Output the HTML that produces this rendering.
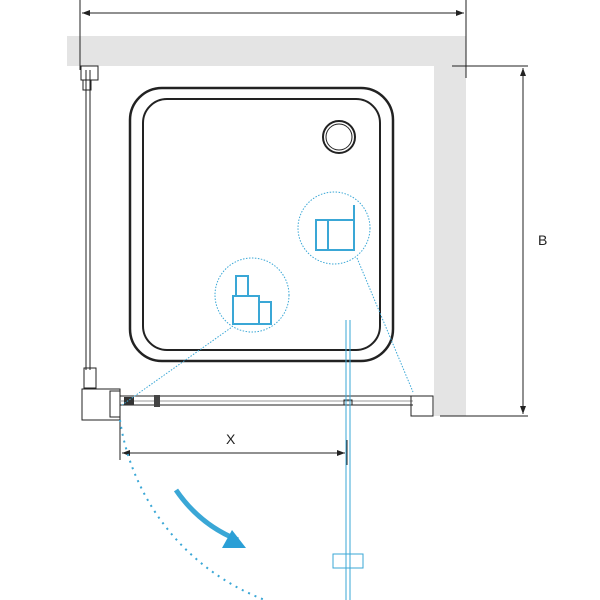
<!DOCTYPE html>
<html><head><style>body{margin:0;background:#fff}svg{display:block}</style></head><body>
<svg width="600" height="600" viewBox="0 0 600 600" xmlns="http://www.w3.org/2000/svg">
<defs><marker id="a" markerWidth="8" markerHeight="6" refX="8" refY="3" orient="auto"><path d="M0,0 L8,3 L0,6z" fill="#222"/></marker>
<marker id="b" markerWidth="8" markerHeight="6" refX="0" refY="3" orient="auto"><path d="M8,0 L0,3 L8,6z" fill="#222"/></marker></defs>
<rect x="67" y="36" width="399" height="30" fill="#e4e4e4"/>
<rect x="434" y="66" width="32" height="350" fill="#e4e4e4"/>
<g stroke="#222" stroke-width="1" fill="none">
<line x1="80" y1="0" x2="80" y2="70"/><line x1="466" y1="0" x2="466" y2="78"/>
<line x1="82" y1="13" x2="464" y2="13" marker-start="url(#b)" marker-end="url(#a)"/>
<line x1="452" y1="66" x2="528" y2="66"/><line x1="440" y1="416" x2="528" y2="416"/>
<line x1="523" y1="68" x2="523" y2="414" marker-start="url(#b)" marker-end="url(#a)"/>
<rect x="130" y="88" width="263" height="273" rx="32" stroke-width="2.5"/>
<rect x="143" y="99" width="237" height="251" rx="24" stroke-width="2"/>
<circle cx="339" cy="137" r="16" stroke-width="2"/><circle cx="339" cy="137" r="13" stroke-width="1"/>
<line x1="86" y1="70" x2="86" y2="370"/><line x1="90" y1="70" x2="90" y2="370"/>
<rect x="81" y="66" width="17" height="14"/><rect x="83" y="80" width="8" height="10"/>
<rect x="84" y="368" width="12" height="20"/>
<rect x="82" y="389" width="38" height="31"/><rect x="110" y="391" width="10" height="26"/>
<line x1="120" y1="396" x2="413" y2="396"/><line x1="120" y1="405" x2="413" y2="405"/>
<line x1="120" y1="401" x2="413" y2="401" stroke="#999"/>
<rect x="411" y="396" width="22" height="20"/>
<line x1="120" y1="420" x2="120" y2="460"/><line x1="347" y1="440" x2="347" y2="465"/>
<line x1="122" y1="453" x2="345" y2="453" marker-start="url(#b)" marker-end="url(#a)"/>
</g>
<rect x="124" y="397" width="10" height="8" fill="#333"/><rect x="154" y="395" width="6" height="12" fill="#444"/>
<rect x="344" y="400" width="8" height="5" fill="none" stroke="#222"/>
<text x="538" y="245" font-family="Liberation Sans,sans-serif" font-size="14" fill="#222">B</text>
<text x="226" y="444" font-family="Liberation Sans,sans-serif" font-size="14" fill="#222">X</text>
<g stroke="#3aa7d6" fill="none">
<line x1="346" y1="320" x2="346" y2="600"/><line x1="350" y1="320" x2="350" y2="600"/>
<rect x="333" y="554" width="30" height="14"/>
<circle cx="252" cy="295" r="37" stroke-dasharray="1.5 1.5"/>
<circle cx="334" cy="228" r="36" stroke-dasharray="1.5 1.5"/>
<line x1="122" y1="405" x2="232" y2="327" stroke-dasharray="1.5 1.5"/>
<line x1="357" y1="258" x2="413" y2="392" stroke-dasharray="1.5 1.5"/>
<path d="M120,420 A228 228 0 0 0 265,600" stroke-width="2" stroke-dasharray="2 5"/>
<rect x="233" y="296" width="26" height="28" stroke-width="2"/><rect x="259" y="302" width="12" height="22" stroke-width="2"/>
<rect x="236" y="276" width="12" height="20" stroke-width="2"/>
<rect x="316" y="220" width="38" height="30" stroke-width="2"/><line x1="328" y1="220" x2="328" y2="250" stroke-width="2"/>
<line x1="354" y1="205" x2="354" y2="250" stroke-width="2"/>
<path d="M176,490 Q200,525 238,540" stroke-width="5"/>
</g>
<path d="M232,530 L246,548 L222,548z" fill="#2b9fd6"/>
</svg>
</body></html>
